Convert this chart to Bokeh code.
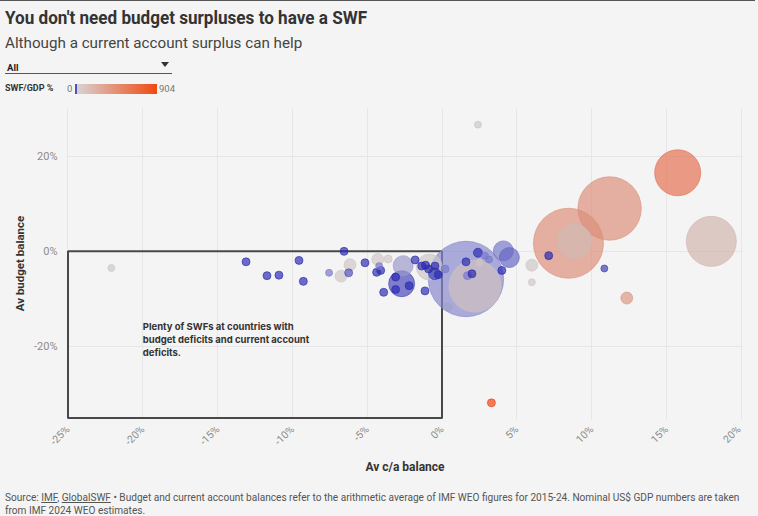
import numpy as np
from bokeh.plotting import figure
from bokeh.models import (ColumnDataSource, Div, Label, BoxAnnotation, FixedTicker,
                          PrintfTickFormatter, GlobalInlineStyleSheet)
from bokeh.layouts import column
from bokeh.embed import file_html
from bokeh.resources import INLINE

# ---------------- data ----------------
ca_balance = [-22.1, -13.1, -11.7, -10.9, -9.56, -9.27, -6.55, -7.55, -6.75, -6.15,
              -6.24, -5.15, -4.3, -3.6, -4.2, -4.37, -4.1, -3.9, -2.7, -2.6,
              -0.85, -3.1, -3.1, -2.2, -1.14, -1.8, -1.36, -1.1, -0.9, -0.47,
              -0.5, -0.25, 0.2, 1.6, 2.2, 4.1, 4.5, 2.4, 2.87, 3.14,
              1.6, 2.0, 1.7, 2.5, 4.0, 0.4, 2.4, 3.3, 6.0, 6.0,
              7.13, 10.85, 12.35, 8.45, 8.85, 11.2, 15.75, 18.0]
budget_balance = [-3.5, -2.2, -5.1, -5.0, -1.9, -6.3, 0.0, -4.5, -5.2, -2.8,
                  -4.5, -2.4, -1.7, -1.6, -3.1, -4.4, -4.0, -8.6, -6.8, -3.0,
                  -3.3, -5.4, -8.0, -7.2, -8.3, -1.8, -3.1, -2.9, -3.7, -3.1,
                  -4.7, -4.9, -3.7, -5.8, -7.3, 0.1, -1.3, -0.3, -0.9, -1.7,
                  -2.2, -4.7, -5.1, -2.3, -4.0, -11.7, 26.6, -31.8, -2.9, -6.5,
                  -0.9, -3.6, -9.8, 1.7, 2.1, 9.0, 16.5, 2.1]
swf_assets = [19, 25, 25, 25, 25, 25, 25, 19, 56, 56,
              25, 25, 56, 25, 19, 25, 25, 25, 264, 156,
              264, 25, 25, 25, 25, 25, 25, 25, 25, 25,
              56, 25, 25, 2220, 1056, 156, 156, 32, 19, 19,
              25, 25, 25, 19, 25, 25, 19, 25, 56, 19,
              25, 19, 56, 1914, 468, 1570, 827, 977]
swf_gdp = [30, 0.3, 0.3, 0.3, 0.3, 0.3, 0.3, 6, 30, 30,
           2, 0.3, 30, 30, 6, 0.3, 0.3, 0.3, 1.5, 12,
           28, 0.3, 0.3, 0.3, 0.3, 0.3, 0.3, 0.2, 0.3, 0.3,
           1, 0.3, 6, 8, 40, 6, 4, 0.3, 6, 6,
           0.3, 0.2, 6, 30, 0.3, 14, 30, 904, 30, 30,
           0.2, 1, 200, 250, 60, 250, 470, 75]
x_ticks = [-25, -20, -15, -10, -5, 0, 5, 10, 15, 20]
y_ticks = [-20, 0, 20]
swf_gdp_max = 904

BG = "#f4f4f4"

stops = [(0.0, (20, 20, 170)), (0.09, (130, 130, 205)), (0.17, (205, 199, 199)), (1.0, (240, 64, 16))]


def colour(v):
    s = min(1.0, (v / swf_gdp_max) ** 0.5)
    for (s0, c0), (s1, c1) in zip(stops, stops[1:]):
        if s <= s1:
            f = (s - s0) / (s1 - s0)
            return "#%02x%02x%02x" % tuple(round(a + (b - a) * f) for a, b in zip(c0, c1))
    return "#f04010"


order = np.argsort(-np.array(swf_assets))
src = ColumnDataSource(dict(
    x=[ca_balance[i] for i in order],
    y=[budget_balance[i] for i in order],
    size=[1.6 * np.sqrt(swf_assets[i]) for i in order],
    color=[colour(swf_gdp[i]) for i in order],
))

# ---------------- header ----------------
header_html = f"""
<div style="position:relative;width:742px;height:90px;font-family:Roboto, sans-serif;">
 <div style="position:absolute;left:-8px;top:-8px;width:758px;height:4px;background:#555555"></div>
 <div style="position:absolute;left:0;top:2px;font-size:19px;font-weight:bold;color:#333;white-space:nowrap;line-height:22px;transform:scaleX(0.9);transform-origin:left center">You don't need budget surpluses to have a SWF</div>
 <div style="position:absolute;left:0;top:28px;font-size:15.2px;color:#444;line-height:20px;white-space:nowrap">Although a current account surplus can help</div>
 <div style="position:absolute;left:2px;top:57px;font-size:9.5px;font-weight:bold;color:#222;line-height:11px">All</div>
 <div style="position:absolute;left:156px;top:57px;width:0;height:0;border-left:4px solid transparent;border-right:4px solid transparent;border-top:5px solid #333"></div>
 <div style="position:absolute;left:0;top:68px;width:167px;height:0;border-top:1px solid #555"></div>
 <div style="position:absolute;left:0;top:78px;font-size:9px;font-weight:bold;color:#333;line-height:11px;white-space:nowrap">SWF/GDP %</div>
 <div style="position:absolute;left:62px;top:78px;font-size:9.5px;color:#777;line-height:11px">0</div>
 <div style="position:absolute;left:70px;top:79px;width:82px;height:10px;background:linear-gradient(to right, #5050c8 0%, #5050c8 2%, #d8d2d2 3%, #f04a10 100%)"></div>
 <div style="position:absolute;left:154px;top:78px;font-size:9.5px;color:#777;line-height:11px">{swf_gdp_max}</div>
</div>
"""
header = Div(text=header_html, width=742, height=90)

# ---------------- figure ----------------
p = figure(frame_width=677, frame_height=312, x_range=(-25.1, 20.15), y_range=(-35.3, 30.2),
           output_backend="svg", toolbar_location=None,
           background_fill_color=BG, border_fill_color=BG, outline_line_color=None,
           min_border_left=66, min_border_right=0, min_border_top=7, min_border_bottom=58)

p.xgrid.ticker = FixedTicker(ticks=x_ticks)
p.ygrid.ticker = FixedTicker(ticks=y_ticks)
p.grid.grid_line_color = "#e6e6e6"

box = BoxAnnotation(left=x_ticks[0], right=0, bottom=-35, top=0,
                    fill_alpha=0, line_color="#484848", line_alpha=1.0, line_width=2,
                    level="underlay")
p.add_layout(box)

p.scatter("x", "y", size="size", source=src, fill_color="color", fill_alpha=0.68,
          line_color="color", line_alpha=0.8, line_width=0.8)

for ax in (p.xaxis[0], p.yaxis[0]):
    ax.axis_line_color = None
    ax.major_tick_line_color = None
    ax.minor_tick_line_color = None
    ax.major_label_text_color = "#8c8c8c"
    ax.major_label_text_font = "Roboto"
    ax.axis_label_text_font = "Roboto"
    ax.axis_label_text_font_style = "bold"
    ax.axis_label_text_color = "#333333"
    ax.formatter = PrintfTickFormatter(format="%d%%")

p.xaxis.ticker = FixedTicker(ticks=x_ticks)
p.yaxis.ticker = FixedTicker(ticks=y_ticks)
p.xaxis.major_label_orientation = np.pi / 4
p.xaxis.major_label_text_font_size = "10.5px"
p.yaxis.major_label_text_font_size = "11px"
p.xaxis.major_label_standoff = 2
p.yaxis.major_label_standoff = 3
p.xaxis.axis_label = "Av c/a balance"
p.yaxis.axis_label = "Av budget balance"
p.xaxis.axis_label_text_font_size = "12px"
p.yaxis.axis_label_text_font_size = "11.5px"
p.xaxis.axis_label_standoff = 4
p.yaxis.axis_label_standoff = 4

note_lines = ["Plenty of SWFs at countries with", "budget deficits and current account", "deficits."]
for i, line in enumerate(note_lines):
    p.add_layout(Label(x=-20.0, y=-14.7, y_offset=-13 * i, text=line, text_font="Inter",
                       text_font_style="bold", text_font_size="9.5px", text_color="#333333",
                       text_baseline="top"))

# ---------------- source ----------------
src_html = """
<div style="font-family:Roboto, sans-serif;font-size:10.1px;color:#555;line-height:13px;padding-top:9px;white-space:nowrap">
Source: <u>IMF</u>, <u>GlobalSWF</u> &bull; Budget and current account balances refer to the arithmetic average of IMF WEO figures for 2015-24. Nominal US$ GDP numbers are taken<br>from IMF 2024 WEO estimates.
</div>
"""
source = Div(text=src_html, width=742, height=33)

layout = column(header, p, source, spacing=0)
layout.stylesheets = [GlobalInlineStyleSheet(css=f"html, body {{ background: {BG}; overflow: hidden; }}")]

open("out.html", "w").write(file_html(layout, INLINE))
